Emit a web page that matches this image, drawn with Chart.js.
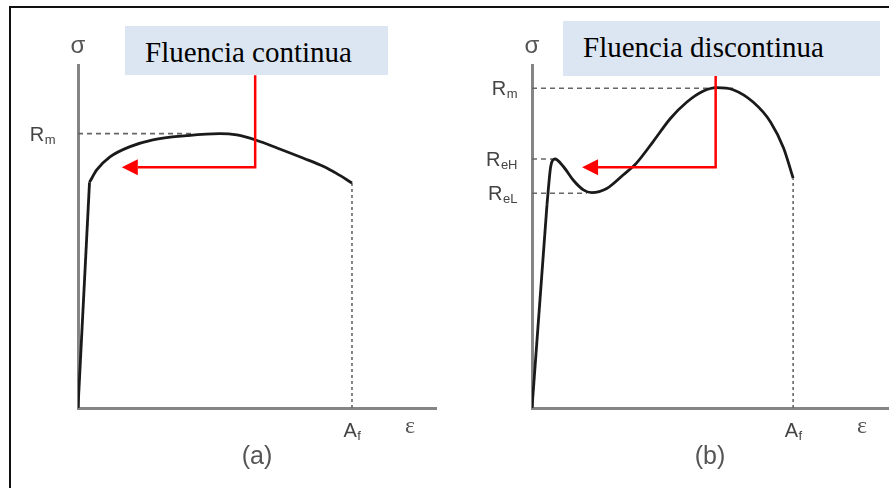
<!DOCTYPE html>
<html>
<head>
<meta charset="utf-8">
<script src="https://cdn.jsdelivr.net/npm/chart.js@4.4.1/dist/chart.umd.min.js"></script>
<style>
html,body{margin:0;padding:0;width:889px;height:488px;overflow:hidden;background:#fff;}
#frame{position:absolute;left:9px;top:6px;width:1000px;height:1000px;border:2px solid #111;}
.panel{position:absolute;top:0;height:488px;}
.box{position:absolute;background:#dce6f2;color:#000;font-family:"Liberation Serif","Times New Roman",serif;font-size:29px;white-space:nowrap;padding-left:20px;box-sizing:border-box;}
</style>
</head>
<body>
<div id="frame"></div>
<div class="panel" style="left:0;width:445px"><canvas id="chartA"></canvas></div>
<div class="panel" style="left:445px;width:444px"><canvas id="chartB"></canvas></div>
<div class="box" style="left:125px;top:26px;width:263px;height:49px;line-height:52px">Fluencia continua</div>
<div class="box" style="left:563px;top:21px;width:317px;height:55px;line-height:53px">Fluencia discontinua</div>
<script>

// (a) fluencia continua
var elasticA_x = [0, 1.26];
var elasticA_y = [0, 329];
var plasticA_x = [1.26, 2.05, 3.5, 5.7, 8.2, 11.9, 15.5, 17.4, 19.6, 21.8, 24.7, 26.9, 28.3, 30];
var plasticA_y = [329, 347, 366, 381, 391, 397, 400, 398, 390, 379, 364, 352, 342, 328];
var levelsA = [400];
var levelsA_end = [12.6];
var levelsA_sub = ["m"];
var afA = 30;
var arrowA_x = [19.4, 19.4, 4.8];
var arrowA_y = [485, 351, 351];

// (b) fluencia discontinua
var elasticB_x = [0, 1.72];
var elasticB_y = [0, 296];
var plasticB_x = [1.72, 1.87, 2.15, 2.64, 3.6, 4.75, 5.9, 6.86, 8.59, 10.5, 12.0, 13.9, 15.9, 17.8, 19.7, 21.2, 23.1, 25.4, 27.4, 28.9, 30.0];
var plasticB_y = [296, 318, 352, 363, 352, 332, 318, 314, 320, 340, 357, 388, 422, 446, 462, 467, 464, 446, 417, 379, 335];
var levelsB = [466, 363, 313];
var levelsB_end = [23.1, 2.3, 6.3];
var levelsB_sub = ["m", "eH", "eL"];
var afB = 30;
var arrowB_x = [21.1, 21.1, 5.75];
var arrowB_y = [490, 351, 351];

var yMax = 500;

function pts(xs, ys){
	var out = [];
	for(var i = 0; i < xs.length; i++){
		out.push({x: xs[i], y: ys[i]});
	}
	return out;
}

var mainFont = '20px "Liberation Sans", Arial, sans-serif';
var subFont = '13px "Liberation Sans", Arial, sans-serif';

function drawSub(ctx, main, sub, x, y, align){
	ctx.font = mainFont;
	var w1 = ctx.measureText(main).width;
	ctx.font = subFont;
	var w2 = ctx.measureText(sub).width;
	var left = x;
	if(align == "right") left = x - w1 - w2;
	if(align == "center") left = x - (w1 + w2) / 2;
	ctx.textAlign = "left";
	ctx.textBaseline = "alphabetic";
	ctx.font = mainFont;
	ctx.fillText(main, left, y + 7);
	ctx.font = subFont;
	ctx.fillText(sub, left + w1 + 0.5, y + 10);
}

var sketchPlugin = {
	id: "sketch",
	afterDatasetsDraw: function(chart){
		var o = chart.options.plugins.sketch;
		var ctx = chart.ctx;
		var xs = chart.scales.x, ys = chart.scales.y;
		var area = chart.chartArea;
		ctx.save();

		// red arrow
		var px = [], py = [];
		for(var i = 0; i < o.arrowX.length; i++){
			px.push(xs.getPixelForValue(o.arrowX[i]));
			py.push(ys.getPixelForValue(o.arrowY[i]));
		}
		var n = px.length - 1;
		var ang = Math.atan2(py[n] - py[n-1], px[n] - px[n-1]);
		var headLen = 16, headW = 8;
		var bx = px[n] - Math.cos(ang) * headLen, by = py[n] - Math.sin(ang) * headLen;
		ctx.strokeStyle = "#f00";
		ctx.fillStyle = "#f00";
		ctx.lineWidth = 2.5;
		ctx.lineJoin = "miter";
		ctx.beginPath();
		ctx.moveTo(px[0], py[0]);
		for(var k = 1; k < n; k++) ctx.lineTo(px[k], py[k]);
		ctx.lineTo(bx, by);
		ctx.stroke();
		ctx.beginPath();
		ctx.moveTo(px[n], py[n]);
		ctx.lineTo(bx - Math.sin(ang) * headW, by + Math.cos(ang) * headW);
		ctx.lineTo(bx + Math.sin(ang) * headW, by - Math.cos(ang) * headW);
		ctx.closePath();
		ctx.fill();

		// axis labels
		ctx.fillStyle = "#555";
		ctx.textAlign = "center";
		ctx.textBaseline = "middle";
		ctx.font = '24px "Liberation Sans", Arial, sans-serif';
		ctx.fillText("\u03c3", xs.getPixelForValue(0), area.top - 19);
		ctx.font = '24px "Liberation Serif", "Times New Roman", serif';
		ctx.fillText("\u03b5", area.right - 26, area.bottom + 19);
		ctx.font = '25px "Liberation Sans", Arial, sans-serif';
		ctx.fillText(o.caption, (area.left + area.right) / 2, area.bottom + 49);

		ctx.fillStyle = "#444";
		for(var j = 0; j < o.levels.length; j++){
			drawSub(ctx, "R", o.levelsSub[j], area.left - o.gap, ys.getPixelForValue(o.levels[j]), "right");
		}
		drawSub(ctx, "A", "f", xs.getPixelForValue(o.af), area.bottom + 22, "center");
		ctx.restore();
	}
};

function makeChart(id, o){
	var curve = {borderColor: "#1a1a1a", borderWidth: 2.8, pointRadius: 0, showLine: true, order: 0};
	var datasets = [
		Object.assign({data: pts(o.elX, o.elY), tension: 0}, curve),
		Object.assign({data: pts(o.plX, o.plY), cubicInterpolationMode: "monotone"}, curve)
	];
	for(var i = 0; i < o.levels.length; i++){
		datasets.push({
			data: [{x: 0, y: o.levels[i]}, {x: o.levelsEnd[i], y: o.levels[i]}],
			borderColor: "#666", borderWidth: 1.6, borderDash: [5, 4],
			pointRadius: 0, showLine: true, order: 2
		});
	}
	datasets.push({
		data: [{x: o.af, y: 0}, {x: o.af, y: o.plY[o.plY.length - 1]}],
		borderColor: "#666", borderWidth: 1.6, borderDash: [3, 3],
		pointRadius: 0, showLine: true, order: 2
	});

	return new Chart(document.getElementById(id), {
		type: "scatter",
		data: {datasets: datasets},
		options: {
			responsive: true,
			maintainAspectRatio: false,
			animation: false,
			events: [],
			layout: {autoPadding: false, padding: o.pad},
			plugins: {
				legend: {display: false},
				tooltip: {enabled: false},
				sketch: o
			},
			scales: {
				x: {
					type: "linear", min: 0, max: o.xMax,
					grid: {display: false, drawTicks: false},
					ticks: {display: false},
					border: {display: true, color: "#858585", width: 3}
				},
				y: {
					type: "linear", min: 0, max: yMax,
					grid: {display: false, drawTicks: false},
					ticks: {display: false},
					border: {display: true, color: "#858585", width: 3}
				}
			}
		},
		plugins: [sketchPlugin]
	});
}

makeChart("chartA", {
	elX: elasticA_x, elY: elasticA_y, plX: plasticA_x, plY: plasticA_y,
	levels: levelsA, levelsEnd: levelsA_end, levelsSub: levelsA_sub,
	af: afA, arrowX: arrowA_x, arrowY: arrowA_y,
	xMax: 39.2, gap: 23, caption: "(a)",
	pad: {left: 78, right: 9, top: 65, bottom: 80}
});

makeChart("chartB", {
	elX: elasticB_x, elY: elasticB_y, plX: plasticB_x, plY: plasticB_y,
	levels: levelsB, levelsEnd: levelsB_end, levelsSub: levelsB_sub,
	af: afB, arrowX: arrowB_x, arrowY: arrowB_y,
	xMax: 40.9, gap: 15, caption: "(b)",
	pad: {left: 87, right: 1, top: 65, bottom: 80}
});

</script>
</body>
</html>
